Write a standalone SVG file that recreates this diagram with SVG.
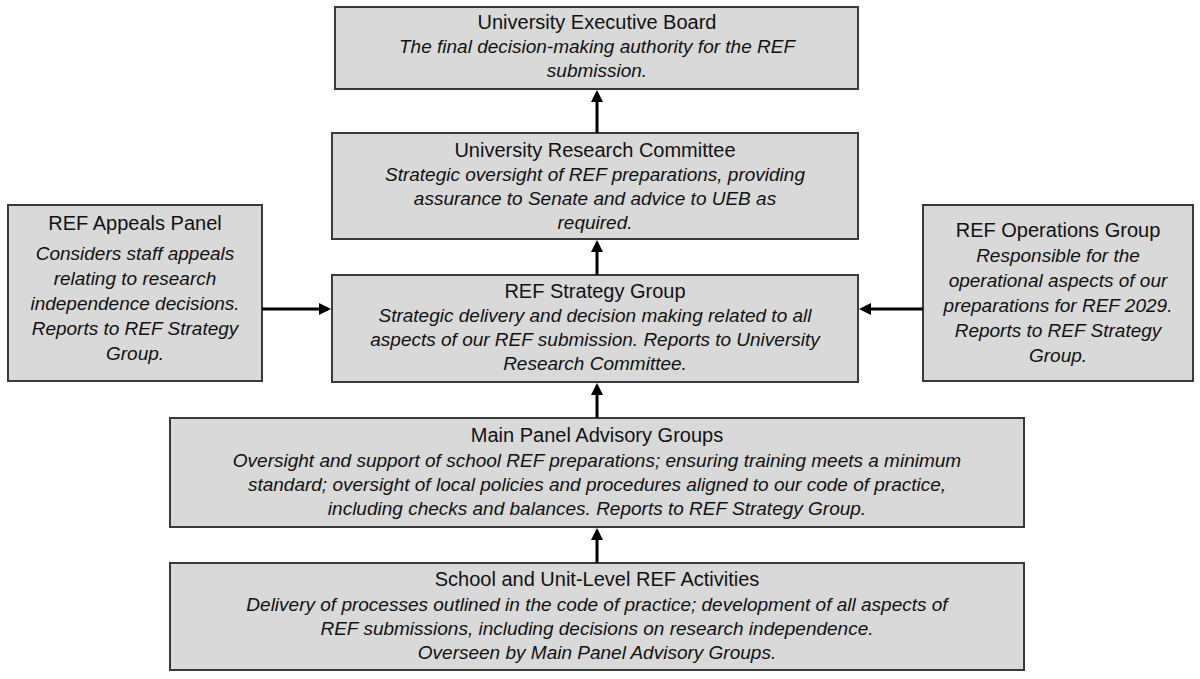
<svg xmlns="http://www.w3.org/2000/svg" width="1200" height="679" viewBox="0 0 1200 679">
<style>
.b{fill:#d9d9d9;stroke:#3a3a3a;stroke-width:2}
.t{font-family:"Liberation Sans",Arial,sans-serif;font-size:19px;fill:#111;text-anchor:middle}
.h{font-size:20px}
.i{font-style:italic}
.c{stroke:#000;stroke-width:3;fill:none;marker-end:url(#a)}
</style>
<defs><marker id="a" markerWidth="4" markerHeight="4" refX="3" refY="2" orient="auto"><path d="M0,0L4,2L0,4z" fill="#000"/></marker></defs>
<rect width="1200" height="679" fill="#fff"/>
<g id="ueb"><rect class="b" x="335" y="7" width="523" height="82"/>
<text class="t h" x="597" y="29">University Executive Board</text>
<text class="t i" x="597" y="53">The final decision-making authority for the REF</text>
<text class="t i" x="597" y="77">submission.</text></g>
<g id="urc"><rect class="b" x="332" y="133" width="526" height="106"/>
<text class="t h" x="595" y="157">University Research Committee</text>
<text class="t i" x="595" y="181">Strategic oversight of REF preparations, providing</text>
<text class="t i" x="595" y="205">assurance to Senate and advice to UEB as</text>
<text class="t i" x="595" y="229">required.</text></g>
<g id="appeals"><rect class="b" x="8" y="205" width="254" height="176"/>
<text class="t h" x="135" y="230">REF Appeals Panel</text>
<text class="t i" x="135" y="260">Considers staff appeals</text>
<text class="t i" x="135" y="285">relating to research</text>
<text class="t i" x="135" y="310">independence decisions.</text>
<text class="t i" x="135" y="335">Reports to REF Strategy</text>
<text class="t i" x="135" y="360">Group.</text></g>
<g id="strategy"><rect class="b" x="332" y="275" width="526" height="107"/>
<text class="t h" x="595" y="298">REF Strategy Group</text>
<text class="t i" x="595" y="322">Strategic delivery and decision making related to all</text>
<text class="t i" x="595" y="346">aspects of our REF submission. Reports to University</text>
<text class="t i" x="595" y="370">Research Committee.</text></g>
<g id="ops"><rect class="b" x="923" y="205" width="270" height="176"/>
<text class="t h" x="1058" y="237">REF Operations Group</text>
<text class="t i" x="1058" y="262">Responsible for the</text>
<text class="t i" x="1058" y="287">operational aspects of our</text>
<text class="t i" x="1058" y="312">preparations for REF 2029.</text>
<text class="t i" x="1058" y="337">Reports to REF Strategy</text>
<text class="t i" x="1058" y="362">Group.</text></g>
<g id="mainpanel"><rect class="b" x="170" y="418" width="854" height="109"/>
<text class="t h" x="597" y="442">Main Panel Advisory Groups</text>
<text class="t i" x="597" y="467">Oversight and support of school REF preparations; ensuring training meets a minimum</text>
<text class="t i" x="597" y="491">standard; oversight of local policies and procedures aligned to our code of practice,</text>
<text class="t i" x="597" y="515">including checks and balances. Reports to REF Strategy Group.</text></g>
<g id="school"><rect class="b" x="170" y="563" width="854" height="107"/>
<text class="t h" x="597" y="586">School and Unit-Level REF Activities</text>
<text class="t i" x="597" y="611">Delivery of processes outlined in the code of practice; development of all aspects of</text>
<text class="t i" x="597" y="635">REF submissions, including decisions on research independence.</text>
<text class="t i" x="597" y="659">Overseen by Main Panel Advisory Groups.</text></g>
<g id="connectors">
<line class="c" x1="597" y1="133" x2="597" y2="93"/>
<line class="c" x1="597" y1="275" x2="597" y2="243"/>
<line class="c" x1="262" y1="309" x2="328" y2="309"/>
<line class="c" x1="923" y1="309" x2="862" y2="309"/>
<line class="c" x1="597" y1="418" x2="597" y2="386"/>
<line class="c" x1="597" y1="563" x2="597" y2="531"/>
</g>
</svg>
